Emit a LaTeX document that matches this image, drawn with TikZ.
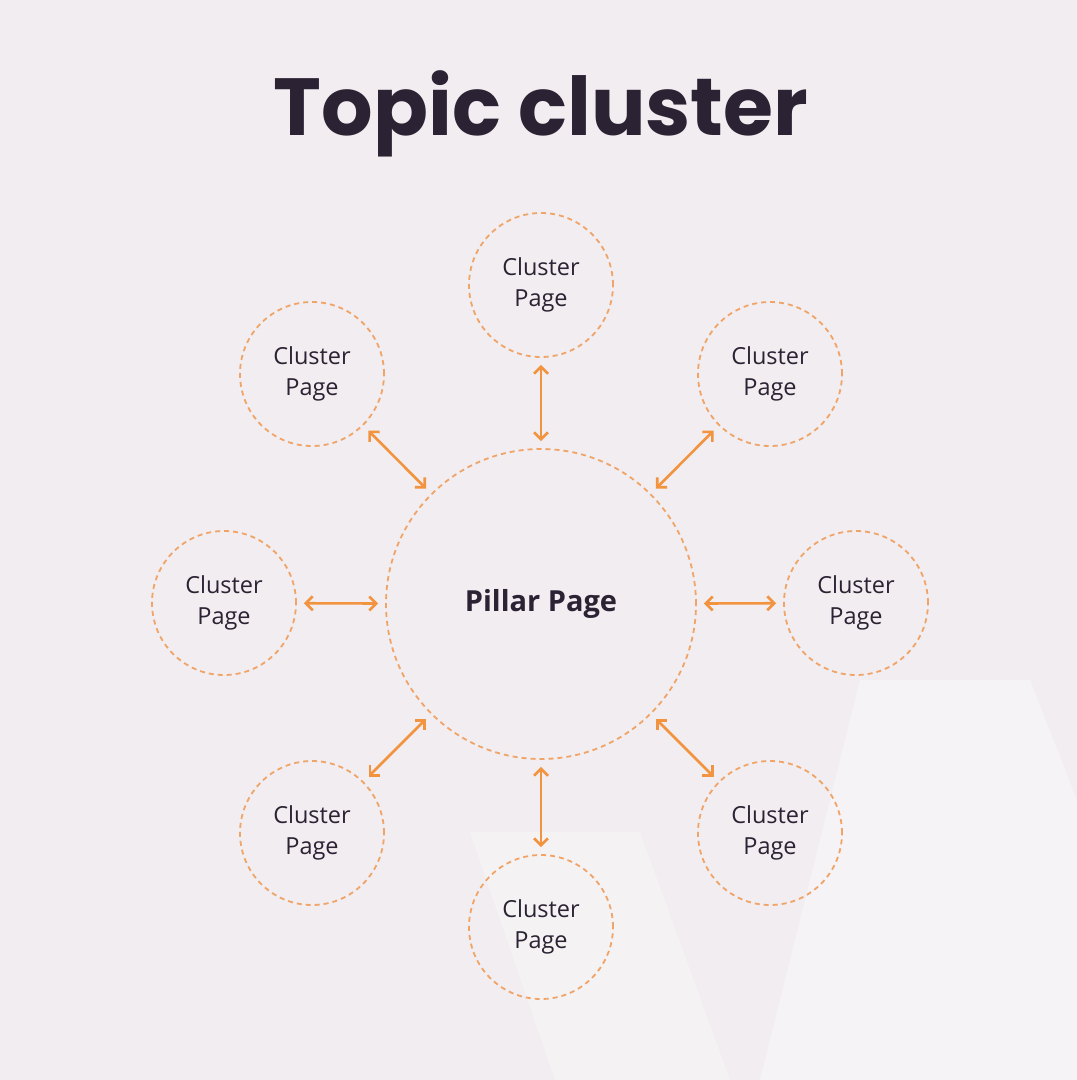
\documentclass[tikz,border=0pt]{standalone}
\usepackage{fontspec}
\setmainfont{Open Sans}
\newfontfamily\titlefont{Poppins}
\usetikzlibrary{arrows.meta}
\definecolor{bg}{HTML}{F1EDF0}
\definecolor{ink}{HTML}{2B2233}
\definecolor{org}{HTML}{F2933F}
\definecolor{dash}{HTML}{F0A468}
\begin{document}
\begin{tikzpicture}[x=1pt,y=-1pt,
  cl/.style={circle,draw=dash,line width=1.8pt,dash pattern=on 5pt off 4pt,minimum size=144pt,inner sep=0pt,align=center,font=\fontsize{23.5}{31}\selectfont,text=ink},
  pl/.style={circle,draw=dash,line width=1.8pt,dash pattern=on 5pt off 4pt,minimum size=310pt,inner sep=0pt,font=\fontsize{29}{32}\selectfont\bfseries,text=ink},
  ar/.style={{Straight Barb[length=7pt,width=14pt]}-{Straight Barb[length=7pt,width=14pt]},draw=org,line width=2.6pt,shorten >=7pt,shorten <=7pt}]
\fill[bg] (0,0) rectangle (1077,1080);
\fill[white,opacity=0.35] (860,680) -- (1030,680) -- (1077,800) -- (1077,1080) -- (760,1080) -- cycle;
\fill[white,opacity=0.3] (470,832) -- (640,832) -- (730,1080) -- (555,1080) -- cycle;
\node[font=\titlefont\fontsize{81}{84}\selectfont\bfseries,text=ink] (t) at (541,114) {Topic cluster};
\node[pl] (p) at (541,604) {Pillar Page};
\node[cl] (c1) at (541,285) {Cluster\\Page};
\node[cl] (c2) at (770,374) {Cluster\\Page};
\node[cl] (c3) at (856,603) {Cluster\\Page};
\node[cl] (c4) at (770,833) {Cluster\\Page};
\node[cl] (c5) at (541,927) {Cluster\\Page};
\node[cl] (c6) at (312,833) {Cluster\\Page};
\node[cl] (c7) at (224,603) {Cluster\\Page};
\node[cl] (c8) at (312,374) {Cluster\\Page};
\foreach \c in {c1,c2,c3,c4,c5,c6,c7,c8} \draw[ar] (\c) -- (p);
\end{tikzpicture}
\end{document}
